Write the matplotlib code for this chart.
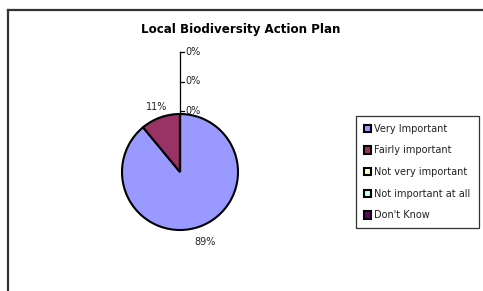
import numpy as np
import matplotlib
matplotlib.use("Agg")
import matplotlib.pyplot as plt
from matplotlib.lines import Line2D

categories = ["Very Important", "Fairly important", "Not very important",
              "Not important at all", "Don't Know"]
values = [89, 11, 0, 0, 0]
colors = ["#9999FF", "#993366", "#FFFFCC", "#CCFFFF", "#660066"]
title = "Local Biodiversity Action Plan"

W, H = 483, 291
fig = plt.figure(figsize=(W / 100, H / 100), dpi=100)
fig.patch.set_facecolor("white")

# outer chart-area border (only top and left edges are inside the image)
fig.add_artist(Line2D([8 / W, 1.0], [1 - 10 / H, 1 - 10 / H],
                      transform=fig.transFigure, color="#333333", lw=1.6))
fig.add_artist(Line2D([8 / W, 8 / W], [0.0, 1 - 10 / H],
                      transform=fig.transFigure, color="#333333", lw=1.6))

ax = fig.add_axes([0, 0, 1, 1])

cx, cy, R = 180, H - 172, 58
wedges, _ = ax.pie(values, colors=colors, startangle=90, counterclock=False,
                   center=(cx, cy), radius=R, frame=True,
                   wedgeprops=dict(edgecolor="black", linewidth=1.5))
ax.set_xlim(0, W)
ax.set_ylim(0, H)
ax.set_aspect("equal")
ax.set_axis_off()

total = sum(values)
fs = 7
start = 90.0
zero_idx = 0
for v in values:
    span = 360.0 * v / total
    mid = np.deg2rad(start - span / 2)
    lab = f"{round(100 * v / total)}%"
    if v > 0:
        rr = 1.28 * R if np.sin(mid) < 0 else 1.2 * R
        ax.text(cx + rr * np.cos(mid), cy + rr * np.sin(mid), lab,
                ha="center", va="center", fontsize=fs, color="#222222")
    else:
        ty = cy + R + 3 + zero_idx * 29.5
        ax.plot([cx, cx + 4], [ty, ty], color="black", lw=0.9)
        ax.text(cx + 5, ty, lab, ha="left", va="center", fontsize=fs,
                color="#222222")
        zero_idx += 1
    start -= span
if zero_idx:
    ax.plot([cx, cx], [cy + R, cy + R + 3 + (zero_idx - 1) * 29.5],
            color="black", lw=0.9)

fig.text(241 / W, 1 - 30 / H, title, ha="center", va="center",
         fontsize=8.6, fontweight="bold", color="black")

leg = ax.legend(wedges, categories, loc="upper left",
                bbox_to_anchor=(356 / W, 1 - 116 / H),
                bbox_transform=fig.transFigure,
                fontsize=fs, frameon=True, fancybox=False,
                edgecolor="black", handlelength=0.75, handleheight=0.75,
                handletextpad=0.35, labelspacing=1.2, borderpad=0.8,
                borderaxespad=0)
leg.get_frame().set_linewidth(0.9)
for t in leg.get_texts():
    t.set_color("#222222")

fig.savefig("out.png", dpi=100)
